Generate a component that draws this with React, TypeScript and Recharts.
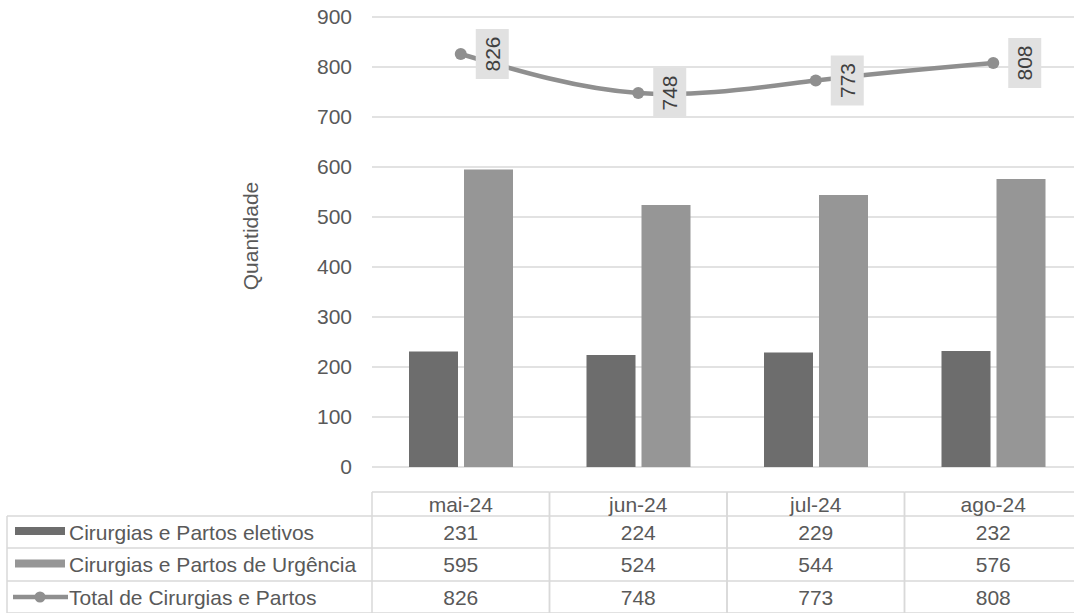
import React from 'react';
import {
  ComposedChart,
  Bar,
  Line,
  XAxis,
  YAxis,
  CartesianGrid,
  LabelList,
} from 'recharts';

const categories = ['mai-24', 'jun-24', 'jul-24', 'ago-24'];
const eletivos = [231, 224, 229, 232];
const urgencia = [595, 524, 544, 576];
const total = [826, 748, 773, 808];
const yTicks = [0, 100, 200, 300, 400, 500, 600, 700, 800, 900];

const seriesNames = [
  'Cirurgias e Partos eletivos',
  'Cirurgias e Partos de Urgência',
  'Total de Cirurgias e Partos',
];

const data = categories.map((month, i) => ({
  month,
  eletivos: eletivos[i],
  urgencia: urgencia[i],
  total: total[i],
}));

const TEXT = '#595959';
const GRID = '#d9d9d9';
const DARK = '#6d6d6d';
const LIGHT = '#969696';
const LINE = '#8f8f8f';
const FONT = 21;
const COL_W = 177.5;

// rows of the data table, relative to the x axis top
const rowLines = [49, 81, 114, 146];
const rowCenters = [65, 97.5, 130];

function TableTick(props: any) {
  const { x, y, payload } = props;
  const i = categories.indexOf(payload.value);
  const left = x - COL_W / 2;
  const right = x + COL_W / 2;
  const values = [eletivos[i], urgencia[i], total[i]];

  return (
    <g>
      <line x1={left} x2={left} y1={y + 25} y2={y + 146} stroke={GRID} strokeWidth={1.5} />
      <line x1={right} x2={right} y1={y + 25} y2={y + 146} stroke={GRID} strokeWidth={1.5} />
      <line x1={left} x2={right} y1={y + 25} y2={y + 25} stroke={GRID} strokeWidth={1.5} />
      {rowLines.map((r) => (
        <line key={r} x1={left} x2={right} y1={y + r} y2={y + r} stroke={GRID} strokeWidth={1.5} />
      ))}
      <text x={x} y={y + 37} textAnchor="middle" dominantBaseline="central" fill={TEXT} fontSize={FONT}>
        {payload.value}
      </text>
      {values.map((v, k) => (
        <text key={k} x={x} y={y + rowCenters[k]} textAnchor="middle" dominantBaseline="central" fill={TEXT} fontSize={FONT}>
          {v}
        </text>
      ))}
      {i === 0 && (
        <g>
          <line x1={7} x2={7} y1={y + 49} y2={y + 146} stroke={GRID} strokeWidth={1.5} />
          {rowLines.map((r) => (
            <line key={r} x1={7} x2={left} y1={y + r} y2={y + r} stroke={GRID} strokeWidth={1.5} />
          ))}
          <rect x={15} y={y + rowCenters[0] - 5} width={50} height={8} fill={DARK} />
          <rect x={15} y={y + rowCenters[1] - 5} width={50} height={8} fill={LIGHT} />
          <line x1={13} x2={68} y1={y + rowCenters[2]} y2={y + rowCenters[2]} stroke={LINE} strokeWidth={4.5} />
          <circle cx={40} cy={y + rowCenters[2]} r={5.5} fill={LINE} />
          {seriesNames.map((s, k) => (
            <text key={s} x={69} y={y + rowCenters[k]} dominantBaseline="central" fill={TEXT} fontSize={FONT}>
              {s}
            </text>
          ))}
        </g>
      )}
    </g>
  );
}

function PointLabel(props: any) {
  const { x, y, value } = props;
  const bx = x + 15;
  const cx = bx + 16.5;
  return (
    <g>
      <rect x={bx} y={y - 25} width={33} height={50} fill="#e1e1e1" />
      <text
        x={cx}
        y={y}
        transform={`rotate(-90 ${cx} ${y})`}
        textAnchor="middle"
        dominantBaseline="central"
        fill="#404040"
        fontSize={FONT}
      >
        {value}
      </text>
    </g>
  );
}

function AxisTitle(props: any) {
  const vb = props.viewBox || { x: 0, y: 17, width: 372, height: 450 };
  const cx = vb.x + vb.width - 122;
  const cy = vb.y + vb.height / 2 - 6;
  return (
    <text
      x={cx}
      y={cy}
      transform={`rotate(-90 ${cx} ${cy})`}
      textAnchor="middle"
      dominantBaseline="central"
      fill={TEXT}
      fontSize={FONT}
    >
      Quantidade
    </text>
  );
}

export default function App() {
  return (
    <div
      style={{
        position: 'absolute',
        left: 0,
        top: 0,
        width: 1074,
        height: 613,
        overflow: 'hidden',
        background: '#fff',
        fontFamily: '"Liberation Sans", Arial, sans-serif',
      }}
    >
      <ComposedChart
        width={1090}
        height={613}
        data={data}
        margin={{ top: 17, right: 8, bottom: 0, left: 0 }}
        barGap={6}
        barSize={49}
      >
        <CartesianGrid vertical={false} stroke={GRID} strokeWidth={1.5} />
        <XAxis
          dataKey="month"
          height={146}
          axisLine={false}
          tickLine={false}
          tickSize={0}
          tickMargin={0}
          interval={0}
          tick={<TableTick />}
        />
        <YAxis
          width={372}
          domain={[0, 900]}
          ticks={yTicks}
          axisLine={false}
          tickLine={false}
          tickSize={0}
          tickMargin={20}
          tick={{ fill: TEXT, fontSize: FONT }}
          label={<AxisTitle />}
        />
        <Bar dataKey="eletivos" fill={DARK} isAnimationActive={false} />
        <Bar dataKey="urgencia" fill={LIGHT} isAnimationActive={false} />
        <Line
          type="natural"
          dataKey="total"
          stroke={LINE}
          strokeWidth={4.5}
          dot={{ r: 6, fill: LINE, stroke: 'none' }}
          activeDot={false}
          isAnimationActive={false}
        >
          <LabelList dataKey="total" content={<PointLabel />} />
        </Line>
      </ComposedChart>
    </div>
  );
}
